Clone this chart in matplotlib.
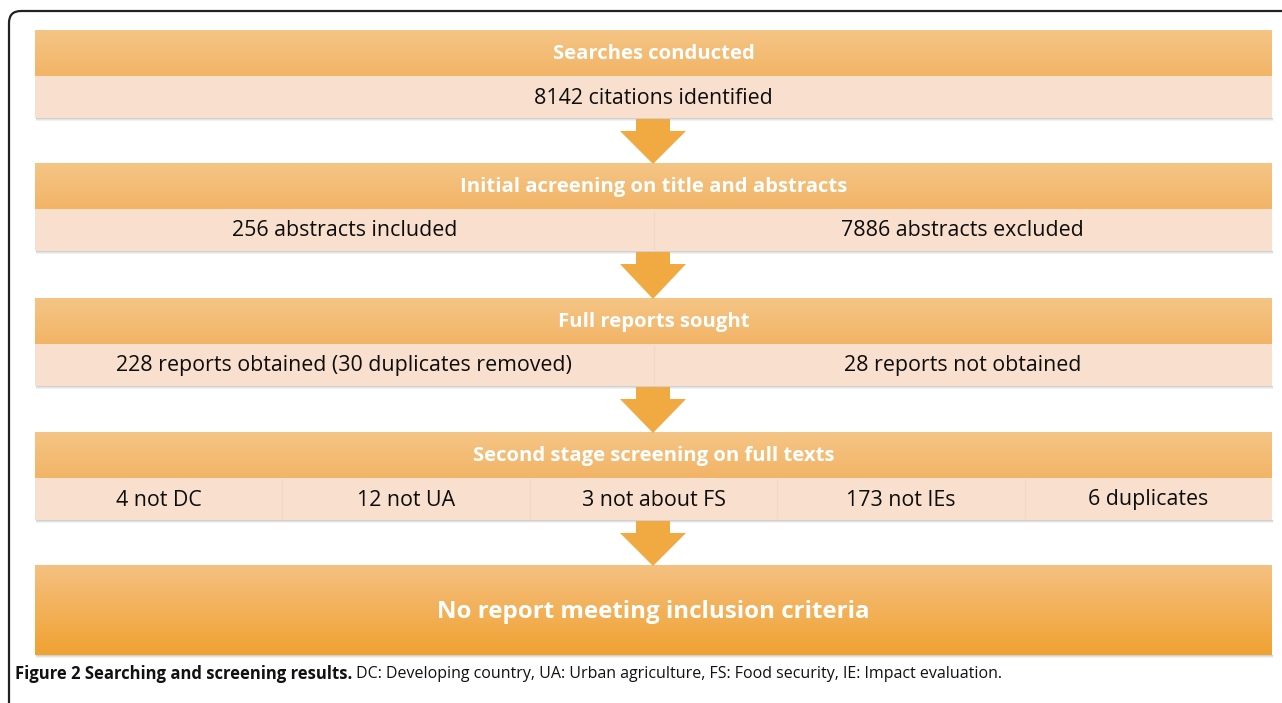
import numpy as np
import matplotlib
matplotlib.use("Agg")
import matplotlib.pyplot as plt
from matplotlib.patches import FancyBboxPatch, Rectangle, Polygon
from matplotlib.colors import LinearSegmentedColormap

# ---------------- data ----------------
stage_titles = [
    "Searches conducted",
    "Initial acreening on title and abstracts",
    "Full reports sought",
    "Second stage screening on full texts",
]
stage_items = [
    ["8142 citations identified"],
    ["256 abstracts included", "7886 abstracts excluded"],
    ["228 reports obtained (30 duplicates removed)", "28 reports not obtained"],
    ["4 not DC", "12 not UA", "3 not about FS", "173 not IEs", "6 duplicates"],
]
final_text = "No report meeting inclusion criteria"
caption_bold = "Figure 2 Searching and screening results."
caption_text = " DC: Developing country, UA: Urban agriculture, FS: Food security, IE: Impact evaluation."

# ---------------- layout ----------------
W, H = 1282, 703
fig = plt.figure(figsize=(W / 100, H / 100), dpi=100)
ax = fig.add_axes([0, 0, 1, 1])
ax.set_xlim(0, W)
ax.set_ylim(H, 0)
ax.axis("off")

FONT = ["Open Sans", "DejaVu Sans"]

x0, x1 = 35, 1272
stage_tops = [30, 163, 298, 432]
head_h = 46
body_h = 42
arrow_cx = 653

head_cmap = LinearSegmentedColormap.from_list("h", ["#F5C585", "#F2B466"])
final_cmap = LinearSegmentedColormap.from_list("f", ["#F5C080", "#F0A232"])
body_col = "#F9DFCD"


def grad_rect(x, y, w, h, cmap, z=2):
    grad = np.linspace(0, 1, 64).reshape(-1, 1)
    ax.imshow(grad, cmap=cmap, aspect="auto", extent=(x, x + w, y + h, y),
              zorder=z, interpolation="bicubic")


def shadow(x, y, w, h):
    for i, a in enumerate([0.35, 0.2, 0.1]):
        ax.add_patch(Rectangle((x + 1, y + h + i), w, 1.2, color="#7a7a7a",
                               alpha=a, lw=0, zorder=1))


def arrow(y_top, y_tip):
    stem_w = 34
    head_w = 66
    stem_b = y_top + 12
    ax.add_patch(Rectangle((arrow_cx - stem_w / 2, y_top), stem_w, stem_b - y_top,
                           color="#F1A941", lw=0, zorder=3))
    ax.add_patch(Polygon([(arrow_cx - head_w / 2, stem_b), (arrow_cx + head_w / 2, stem_b),
                          (arrow_cx, y_tip)], closed=True, color="#F1A941", lw=0, zorder=3))


for i, (title, items) in enumerate(zip(stage_titles, stage_items)):
    top = stage_tops[i]
    shadow(x0, top, x1 - x0, head_h + body_h)
    grad_rect(x0, top, x1 - x0, head_h, head_cmap)
    ax.add_patch(Rectangle((x0, top + head_h), x1 - x0, body_h, color=body_col,
                           lw=0, zorder=2))
    ax.text((x0 + x1) / 2, top + head_h / 2 + 1, title, ha="center", va="center",
            color="white", fontsize=14.6, fontweight="bold", family=FONT, zorder=5)
    n = len(items)
    cw = (x1 - x0) / n
    for j, it in enumerate(items):
        cx = x0 + cw * (j + 0.5)
        ax.text(cx, top + head_h + body_h / 2 + 1, it, ha="center", va="center",
                color="#0d0d0d", fontsize=15.4, family=FONT, zorder=5)
        if j > 0:
            ax.plot([x0 + cw * j] * 2, [top + head_h + 2, top + head_h + body_h - 2],
                    color="#F5D8C4", lw=1, zorder=4)
    nxt = stage_tops[i + 1] if i + 1 < len(stage_tops) else 565
    arrow(top + head_h + body_h + 1, nxt + 1)

# final box
ft, fb = 565, 655
shadow(x0, ft, x1 - x0, fb - ft)
grad_rect(x0, ft, x1 - x0, fb - ft, final_cmap)
ax.text((x0 + x1) / 2, 612, final_text, ha="center", va="center",
        color="white", fontsize=17.4, fontweight="bold", family=FONT, zorder=5)

# frame (rounded, open to right/bottom)
frame = FancyBboxPatch((9, 11), 1400, 800, boxstyle="round,pad=0,rounding_size=12",
                       fill=False, ec="#222222", lw=1.6, zorder=6)
ax.add_patch(frame)

# caption
t1 = ax.text(15, 674, caption_bold, ha="left", va="center", fontsize=12,
             fontweight="bold", family=FONT, color="#111111", zorder=6)
fig.canvas.draw()
bb = t1.get_window_extent(renderer=fig.canvas.get_renderer())
xr = ax.transData.inverted().transform((bb.x1, bb.y0))[0]
ax.text(xr, 674, caption_text, ha="left", va="center", fontsize=11.55,
        family=FONT, color="#111111", zorder=6)

fig.savefig("out.png", dpi=100)
